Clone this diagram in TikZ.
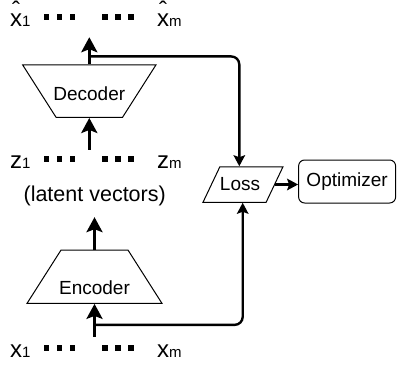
\documentclass[tikz,border=0pt]{standalone}
\usepackage{fontspec}
\setmainfont{Liberation Sans}
\usetikzlibrary{positioning, arrows.meta, shapes.geometric}

% square dots and the vector rows
\newcommand{\sqdot}{\raisebox{6.5pt}{\rule{5.5pt}{5.5pt}}}
\newcommand{\sqdots}{\sqdot\hspace{7.5pt}\sqdot\hspace{7.5pt}\sqdot}
\newcommand{\rowvar}[2]{{\fontsize{24}{26}\selectfont #1}{\fontsize{15}{16}\selectfont #2}}
\newcommand{\vecrow}[1]{\rowvar{#1}{1}\hspace{13pt}\sqdots\hspace{27pt}\sqdots\hspace{23.5pt}\rowvar{#1}{m}}
\newcommand{\hatx}{\makebox[0pt][l]{\makebox[12pt][c]{\raisebox{8pt}{\char"02C6}}}x}

\begin{document}
\begin{tikzpicture}[
    x=1pt, y=-1pt,
    coder/.style={trapezium, draw, line width=1pt, trapezium stretches=true, inner sep=2pt},
    txt/.style={font=\fontsize{19}{22}\selectfont},
    row/.style={anchor=base west, inner xsep=0pt},
    flow/.style={-{Stealth[length=15pt, width=16pt, inset=3pt]}, line width=3.5pt},
    feed/.style={-{Stealth[length=11pt, width=11.5pt, inset=2pt]}, line width=2.4pt, rounded corners=8pt}
  ]
    \useasboundingbox (0,0) rectangle (398,364);

    % Vector rows
    \node[row, inner ysep=11pt] (xhat) at (10,26) {\vecrow{\hatx}};
    \node[row, inner ysep=5.5pt] (zrow) at (10,168) {\vecrow{z}};
    \node[row, inner ysep=7.5pt] (xrow) at (10,357) {\vecrow{x}};
    \node[anchor=base, inner ysep=10.8pt, font=\fontsize{21.5}{24}\selectfont] (latent) at (94.7,201.7) {(latent vectors)};

    % Decoder (wide side up) and encoder
    \node[coder, minimum width=133.3pt, minimum height=52.5pt, shape border rotate=180,
      trapezium left angle=63.2, trapezium right angle=63.2] (dec) at (89.3,91.2) {};
    \node[txt] (dectext) at ([yshift=-3pt]dec.center) {Decoder};
    \node[coder, minimum width=135pt, minimum height=53.3pt,
      trapezium left angle=63.1, trapezium right angle=63.1] (enc) at (94.5,276.7) {};
    \node[txt] (enctext) at ([yshift=-11.5pt]enc.center) {Encoder};

    % Loss and optimizer
    \node[coder, minimum width=80pt, minimum height=35.5pt,
      trapezium left angle=70, trapezium right angle=110] (loss) at (243,184.5) {};
    \node[txt] (losstext) at ([xshift=-3pt]loss.center) {Loss};
    \node[txt, draw, line width=1pt, rounded corners=6pt, minimum width=97pt, minimum height=43pt,
      inner sep=0pt, right=23pt of loss, yshift=3pt] (opt) {Optimizer};

    % Main flow
    \draw[flow] (dec.north) -- (dec.north |- xhat.south);
    \draw[flow] (dec.south |- zrow.north) -- (dec.south);
    \draw[flow] (enc.north) -- (enc.north |- latent.south);
    \draw[flow] (enc.south |- xrow.north) -- (enc.south);

    % Branches to the loss
    \coordinate (decbranch) at ([yshift=8pt]dec.north);
    \coordinate (encbranch) at ([yshift=-21pt]enc.south);
    \draw[feed] (decbranch) -| ([xshift=-3.7pt]loss.north);
    \draw[feed] (encbranch) -| ([xshift=-0.3pt]loss.south);
    \draw[feed] (loss.east) -- (loss.east -| opt.west);
  \end{tikzpicture}
\end{document}
